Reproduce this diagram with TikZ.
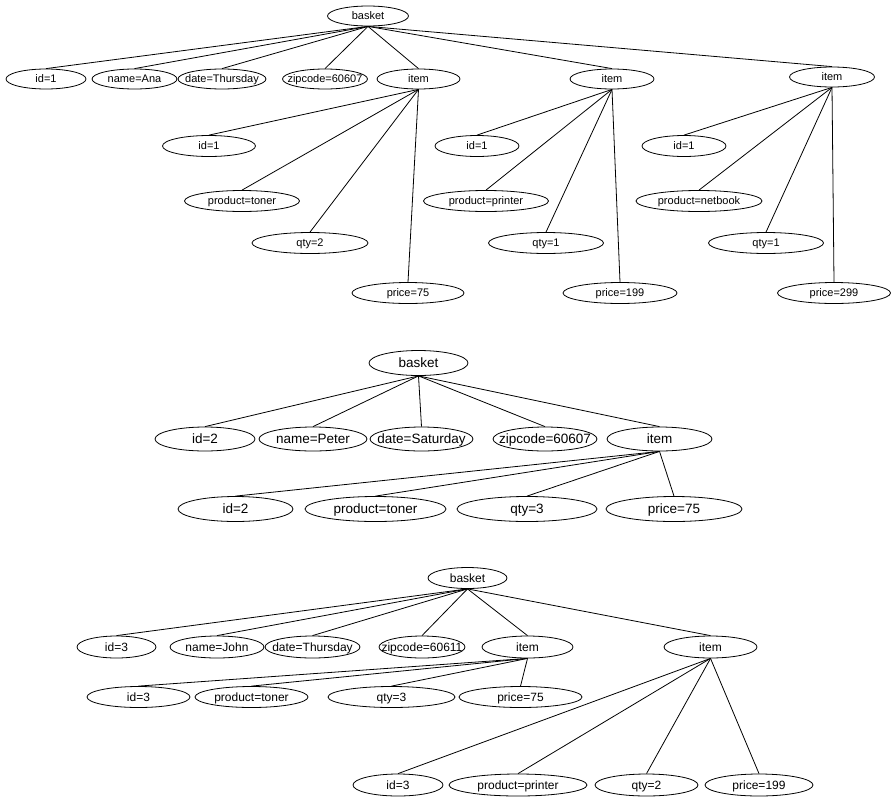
\documentclass[tikz,border=0pt]{standalone}
\usepackage{fontspec}
\setmainfont{Liberation Sans}
\usetikzlibrary{shapes.geometric}
\newcommand{\lbl}[1]{\makebox[0pt]{\raisebox{-0.36em}[0pt][0pt]{#1}}}
\newcommand{\nd}[6]{\node[el, minimum width=#4pt, minimum height=#5pt] (#1) at (#2,#3) {\lbl{#6}};}
\tikzset{
  el/.style={ellipse, draw, inner sep=0pt, line width=0.8pt},
  edge/.style={line width=0.8pt},
  tA/.style={font=\fontsize{11}{13}\selectfont},
  tB/.style={font=\fontsize{13.5}{16}\selectfont},
  tC/.style={font=\fontsize{12}{14}\selectfont}
}
\begin{document}
\begin{tikzpicture}[x=1pt,y=-1pt]
\useasboundingbox (0,0) rectangle (891,798);
% ---------------- Tree 1
\begin{scope}[tA]
\nd{a}{368}{16}{81}{20}{basket}
\nd{aid}{46}{79}{80}{20}{id=1}
\nd{aname}{134.5}{79}{85}{20}{name=Ana}
\nd{adate}{222}{79}{88}{20}{date=Thursday}
\nd{azip}{325}{79}{85}{20}{zipcode=60607}
\nd{ai1}{418.5}{79}{83}{20}{item}
\nd{ai2}{612}{79}{84}{20}{item}
\nd{ai3}{832}{77}{85}{20}{item}
\nd{a1id}{209}{146}{93}{21}{id=1}
\nd{a1prod}{242}{201}{115}{21}{product=toner}
\nd{a1qty}{310}{243}{116}{21}{qty=2}
\nd{a1price}{408}{293}{112}{21}{price=75}
\nd{a2id}{477}{146}{84}{21}{id=1}
\nd{a2prod}{486}{201}{125}{21}{product=printer}
\nd{a2qty}{546}{243}{115}{21}{qty=1}
\nd{a2price}{620}{293}{114}{21}{price=199}
\nd{a3id}{684}{146}{84}{21}{id=1}
\nd{a3prod}{699}{201}{126}{21}{product=netbook}
\nd{a3qty}{766}{243}{115}{21}{qty=1}
\nd{a3price}{834}{293}{113}{21}{price=299}
\end{scope}
\foreach \c in {aid,aname,adate,azip,ai1,ai2,ai3} \draw[edge] (a.south) -- (\c.north);
\foreach \c in {a1id,a1prod,a1qty,a1price} \draw[edge] (ai1.south) -- (\c.north);
\foreach \c in {a2id,a2prod,a2qty,a2price} \draw[edge] (ai2.south) -- (\c.north);
\foreach \c in {a3id,a3prod,a3qty,a3price} \draw[edge] (ai3.south) -- (\c.north);
% ---------------- Tree 2
\begin{scope}[tB]
\nd{b}{418.5}{363}{99}{25}{basket}
\nd{bid}{205}{439}{100}{24}{id=2}
\nd{bname}{313}{439}{108}{24}{name=Peter}
\nd{bdate}{421.5}{439}{103}{24}{date=Saturday}
\nd{bzip}{545}{439}{104}{24}{zipcode=60607}
\nd{bi}{659.5}{439}{105}{24}{item}
\nd{b1id}{235.5}{509}{115}{25}{id=2}
\nd{b1prod}{375.5}{509}{141}{25}{product=toner}
\nd{b1qty}{527}{509}{140}{25}{qty=3}
\nd{b1price}{674}{509}{136}{25}{price=75}
\end{scope}
\foreach \c in {bid,bname,bdate,bzip,bi} \draw[edge] (b.south) -- (\c.north);
\foreach \c in {b1id,b1prod,b1qty,b1price} \draw[edge] (bi.south) -- (\c.north);
% ---------------- Tree 3
\begin{scope}[tC]
\nd{c}{467.5}{578}{79}{21}{basket}
\nd{cid}{116.5}{647}{79}{22}{id=3}
\nd{cname}{217}{647}{94}{22}{name=John}
\nd{cdate}{312.5}{647}{95}{22}{date=Thursday}
\nd{czip}{422}{647}{86}{22}{zipcode=60611}
\nd{ci1}{527.5}{647}{91}{22}{item}
\nd{ci2}{710.5}{647}{93}{22}{item}
\nd{c1id}{138.5}{697}{103}{21}{id=3}
\nd{c1prod}{251.5}{697}{113}{21}{product=toner}
\nd{c1qty}{391.5}{697}{127}{21}{qty=3}
\nd{c1price}{520.5}{697}{123}{21}{price=75}
\nd{c2id}{398}{785}{90}{22}{id=3}
\nd{c2prod}{518}{785}{138}{22}{product=printer}
\nd{c2qty}{646.5}{785}{103}{22}{qty=2}
\nd{c2price}{759}{785}{108}{22}{price=199}
\end{scope}
\foreach \c in {cid,cname,cdate,czip,ci1,ci2} \draw[edge] (c.south) -- (\c.north);
\foreach \c in {c1id,c1prod,c1qty,c1price} \draw[edge] (ci1.south) -- (\c.north);
\foreach \c in {c2id,c2prod,c2qty,c2price} \draw[edge] (ci2.south) -- (\c.north);
\end{tikzpicture}
\end{document}
